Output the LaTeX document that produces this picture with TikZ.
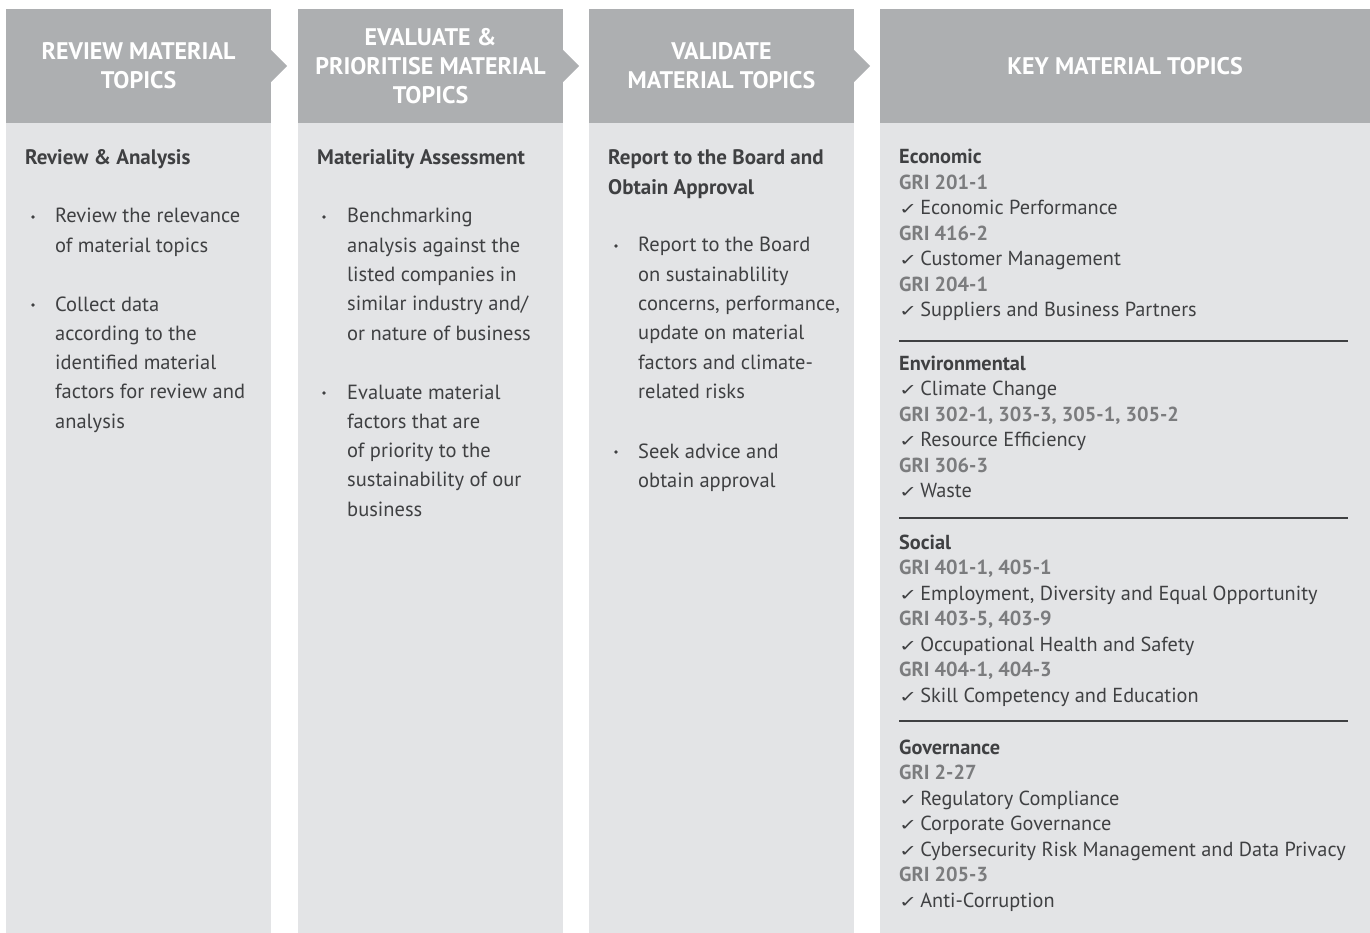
\documentclass[tikz,border=0pt]{standalone}
\usepackage{fontspec}
\setmainfont{PT Sans}
\newfontfamily\symfont{DejaVu Sans}
\usepackage{xcolor}
\usetikzlibrary{positioning}

\definecolor{headgray}{HTML}{ADAFB1}
\definecolor{bodygray}{HTML}{E3E4E6}
\definecolor{ink}{HTML}{3F4042}
\definecolor{grigray}{HTML}{7B7C7E}

\newcommand{\tick}{{\symfont\fontsize{16}{16}\selectfont\scalebox{1.35}[1]{✓}}\hspace{3pt}}
\newcommand{\gri}[1]{\textcolor{grigray}{\bfseries #1}}

\tikzset{
  header/.style={fill=headgray, text=white, align=center, inner sep=0pt,
    font=\fontsize{24}{29}\selectfont\bfseries,
    minimum width=265pt, minimum height=114pt},
  body/.style={fill=bodygray, inner sep=0pt,
    minimum width=265pt, minimum height=810pt},
  para/.style={anchor=base west, inner sep=0pt, text=ink,
    font=\fontsize{20.5}{29.3}\selectfont},
  subhead/.style={para, font=\fontsize{21}{29.3}\selectfont\bfseries},
  topics/.style={para, font=\fontsize{20.3}{25.5}\selectfont},
  rule/.style={draw=ink, line width=1.8pt},
  chevron/.style={fill=headgray},
}

\begin{document}
\begin{tikzpicture}[x=1pt, y=-1pt]
  \useasboundingbox (0,0) rectangle (1370,933);

  % column 1
  \node[header] (h1) at (138.5,66) {REVIEW MATERIAL\\TOPICS};
  \node[body, below=0pt of h1] (b1) {};
  \fill[chevron] ([yshift=16pt]h1.east) -- ++(16,16) -- ++(-16,16) -- cycle;
  \node[subhead] (s1) at (25,165) {Review \& Analysis};
  \node[para] (p1a) at (55,223) {
    \begin{tabular}[t]{@{}l@{}}
      Review the relevance\\
      of material topics
    \end{tabular}
  };
  \node[para] (p1b) at (55,311) {
    \begin{tabular}[t]{@{}l@{}}
      Collect data\\
      according to the\\
      identified material\\
      factors for review and\\
      analysis
    \end{tabular}
  };

  % column 2
  \node[header] (h2) at (430.5,66) {EVALUATE \&\\PRIORITISE MATERIAL\\TOPICS};
  \node[body, below=0pt of h2] (b2) {};
  \fill[chevron] ([yshift=16pt]h2.east) -- ++(16,16) -- ++(-16,16) -- cycle;
  \node[subhead] (s2) at (317,165) {Materiality Assessment};
  \node[para] (p2a) at (347,223) {
    \begin{tabular}[t]{@{}l@{}}
      Benchmarking\\
      analysis against the\\
      listed companies in\\
      similar industry and/\\
      or nature of business
    \end{tabular}
  };
  \node[para] (p2b) at (347,399) {
    \begin{tabular}[t]{@{}l@{}}
      Evaluate material\\
      factors that are\\
      of priority to the\\
      sustainability of our\\
      business
    \end{tabular}
  };

  % column 3
  \node[header] (h3) at (721.5,66) {VALIDATE\\MATERIAL TOPICS};
  \node[body, below=0pt of h3] (b3) {};
  \fill[chevron] ([yshift=16pt]h3.east) -- ++(16,16) -- ++(-16,16) -- cycle;
  \node[subhead] (s3) at (608,165) {
    \begin{tabular}[t]{@{}l@{}}
      Report to the Board and\\
      Obtain Approval
    \end{tabular}
  };
  \node[para] (p3a) at (638,252) {
    \begin{tabular}[t]{@{}l@{}}
      Report to the Board\\
      on sustainablility\\
      concerns, performance,\\
      update on material\\
      factors and climate-\\
      related risks
    \end{tabular}
  };
  \node[para] (p3b) at (638,458) {
    \begin{tabular}[t]{@{}l@{}}
      Seek advice and\\
      obtain approval
    \end{tabular}
  };

  % bullets
  \foreach \x/\y in {33/217, 33/305, 324/217, 324/393, 616/246, 616/452}
    \fill[ink] (\x,\y) circle (1.8pt);

  % column 4
  \node[header, minimum width=490pt] (h4) at (1125,66) {KEY MATERIAL TOPICS};
  \node[body, minimum width=490pt, below=0pt of h4] (b4) {};
  \node[topics] (econ) at (899,164) {
    \begin{tabular}[t]{@{}l@{}}
      \textbf{Economic}\\
      \gri{GRI 201-1}\\
      \tick Economic Performance\\
      \gri{GRI 416-2}\\
      \tick Customer Management\\
      \gri{GRI 204-1}\\
      \tick Suppliers and Business Partners
    \end{tabular}
  };
  \draw[rule] (899,341) -- (1348,341);
  \node[topics] (env) at (899,370) {
    \begin{tabular}[t]{@{}l@{}}
      \textbf{Environmental}\\
      \tick Climate Change\\
      \gri{GRI 302-1, 303-3, 305-1, 305-2}\\
      \tick Resource Efficiency\\
      \gri{GRI 306-3}\\
      \tick Waste
    \end{tabular}
  };
  \draw[rule] (899,518) -- (1348,518);
  \node[topics] (soc) at (899,549) {
    \begin{tabular}[t]{@{}l@{}}
      \textbf{Social}\\
      \gri{GRI 401-1, 405-1}\\
      \tick Employment, Diversity and Equal Opportunity\\
      \gri{GRI 403-5, 403-9}\\
      \tick Occupational Health and Safety\\
      \gri{GRI 404-1, 404-3}\\
      \tick Skill Competency and Education
    \end{tabular}
  };
  \draw[rule] (899,721) -- (1348,721);
  \node[topics] (gov) at (899,754) {
    \begin{tabular}[t]{@{}l@{}}
      \textbf{Governance}\\
      \gri{GRI 2-27}\\
      \tick Regulatory Compliance\\
      \tick Corporate Governance\\
      \tick Cybersecurity Risk Management and Data Privacy\\
      \gri{GRI 205-3}\\
      \tick Anti-Corruption
    \end{tabular}
  };
\end{tikzpicture}
\end{document}
